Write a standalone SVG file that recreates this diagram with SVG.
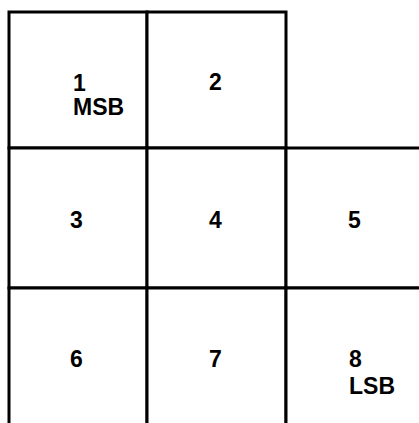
<svg xmlns="http://www.w3.org/2000/svg" width="419" height="423" viewBox="0 0 419 423">
<style>
.cell{fill:#fff;stroke:#000;stroke-width:3}
.t{font-family:"Liberation Sans",Arial,sans-serif;font-weight:bold;font-size:23px;fill:#000}
</style>
<rect width="419" height="423" fill="#fff"/>
<g id="cell1"><rect class="cell" x="9" y="12" width="138" height="136"/><text class="t" x="73" y="91">1</text><text class="t" x="73" y="115">MSB</text></g>
<g id="cell2"><rect class="cell" x="147" y="12" width="139" height="136"/><text class="t" x="209" y="90">2</text></g>
<g id="cell3"><rect class="cell" x="9" y="148" width="138" height="140"/><text class="t" x="70" y="228">3</text></g>
<g id="cell4"><rect class="cell" x="147" y="148" width="139" height="140"/><text class="t" x="209" y="228">4</text></g>
<g id="cell5"><rect class="cell" x="286" y="148" width="140" height="140"/><text class="t" x="348" y="228">5</text></g>
<g id="cell6"><rect class="cell" x="9" y="288" width="138" height="140"/><text class="t" x="70" y="367">6</text></g>
<g id="cell7"><rect class="cell" x="147" y="288" width="139" height="140"/><text class="t" x="209" y="367">7</text></g>
<g id="cell8"><rect class="cell" x="286" y="288" width="140" height="140"/><text class="t" x="349" y="367">8</text><text class="t" x="349" y="394">LSB</text></g>
<g id="connectors"></g>
</svg>
